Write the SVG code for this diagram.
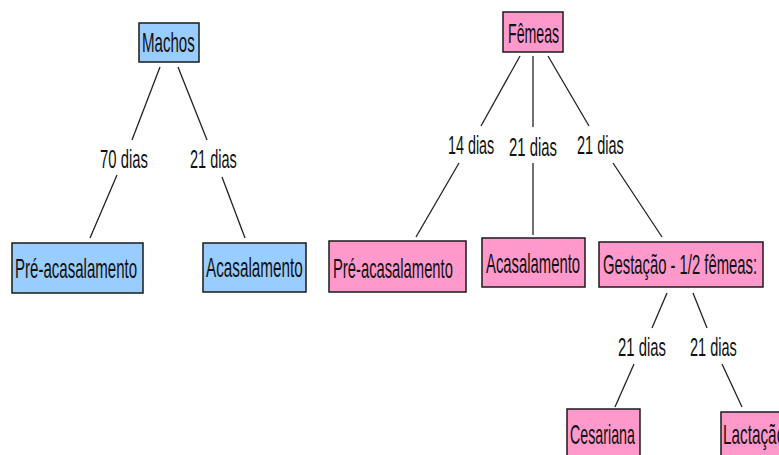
<svg xmlns="http://www.w3.org/2000/svg" width="779" height="455" viewBox="0 0 779 455">
<style>
text{font-family:"Liberation Sans",Arial,sans-serif;font-size:27px;fill:#111;}
.l text{font-size:25px;}
.b{fill:#99CCFF;stroke:#1a1a1a;stroke-width:1.5;}
.p{fill:#FF99CC;stroke:#1a1a1a;stroke-width:1.5;}
.c line{stroke:#222;stroke-width:1.3;}
</style>
<rect width="779" height="455" fill="#fff"/>
<g class="c" id="connectors">
<line x1="160" y1="67" x2="132" y2="140"/>
<line x1="117" y1="175" x2="90" y2="238"/>
<line x1="178" y1="67" x2="207" y2="140"/>
<line x1="222" y1="177" x2="245" y2="238"/>
<line x1="520" y1="56" x2="481" y2="126"/>
<line x1="459" y1="163" x2="416" y2="237"/>
<line x1="533" y1="56" x2="533" y2="127"/>
<line x1="533" y1="163" x2="533" y2="235"/>
<line x1="548" y1="56" x2="589" y2="126"/>
<line x1="613" y1="163" x2="662" y2="237"/>
<line x1="667" y1="293" x2="652" y2="328"/>
<line x1="634" y1="364" x2="615" y2="407"/>
<line x1="693" y1="293" x2="707" y2="328"/>
<line x1="722" y1="364" x2="742" y2="407"/>
<g class="l">
<text transform="translate(100,168) scale(0.55,1)" textLength="87" lengthAdjust="spacingAndGlyphs">70 dias</text>
<text transform="translate(190,168) scale(0.55,1)" textLength="85" lengthAdjust="spacingAndGlyphs">21 dias</text>
<text transform="translate(448,154) scale(0.55,1)" textLength="84" lengthAdjust="spacingAndGlyphs">14 dias</text>
<text transform="translate(509,156) scale(0.55,1)" textLength="87" lengthAdjust="spacingAndGlyphs">21 dias</text>
<text transform="translate(577,154) scale(0.55,1)" textLength="85" lengthAdjust="spacingAndGlyphs">21 dias</text>
<text transform="translate(618,356) scale(0.55,1)" textLength="87" lengthAdjust="spacingAndGlyphs">21 dias</text>
<text transform="translate(690,356) scale(0.55,1)" textLength="85" lengthAdjust="spacingAndGlyphs">21 dias</text>
</g>
</g>
<g id="machos"><rect class="b" x="139" y="23" width="60" height="39"/><text transform="translate(142,52) scale(0.55,1)" textLength="96" lengthAdjust="spacingAndGlyphs">Machos</text></g>
<g id="m-pre"><rect class="b" x="12" y="243" width="131" height="50"/><text transform="translate(15,278) scale(0.55,1)" textLength="222" lengthAdjust="spacingAndGlyphs">Pré-acasalamento</text></g>
<g id="m-acas"><rect class="b" x="203" y="243" width="103" height="49"/><text transform="translate(206,277) scale(0.55,1)" textLength="176" lengthAdjust="spacingAndGlyphs">Acasalamento</text></g>
<g id="femeas"><rect class="p" x="503" y="12" width="60" height="40"/><text transform="translate(508,43) scale(0.55,1)" textLength="93" lengthAdjust="spacingAndGlyphs">Fêmeas</text></g>
<g id="f-pre"><rect class="p" x="329" y="241" width="137" height="51"/><text transform="translate(333,278) scale(0.55,1)" textLength="218" lengthAdjust="spacingAndGlyphs">Pré-acasalamento</text></g>
<g id="f-acas"><rect class="p" x="482" y="238" width="103" height="49"/><text transform="translate(486,273) scale(0.55,1)" textLength="171" lengthAdjust="spacingAndGlyphs">Acasalamento</text></g>
<g id="gestacao"><rect class="p" x="599" y="242" width="164" height="45"/><text transform="translate(603,274) scale(0.55,1)" textLength="280" lengthAdjust="spacingAndGlyphs">Gestação - 1/2 fêmeas:</text></g>
<g id="cesariana"><rect class="p" x="567" y="409" width="73" height="50"/><text transform="translate(570,444) scale(0.55,1)" textLength="118" lengthAdjust="spacingAndGlyphs">Cesariana</text></g>
<g id="lactacao"><rect class="p" x="721" y="412" width="70" height="50"/><text transform="translate(723,444) scale(0.55,1)" textLength="113" lengthAdjust="spacingAndGlyphs">Lactação</text></g>
</svg>
